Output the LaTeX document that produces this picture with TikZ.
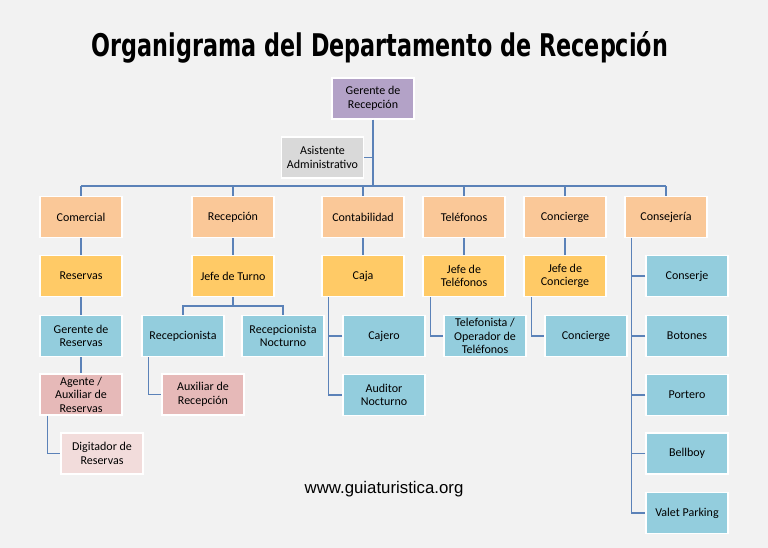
\documentclass[tikz,border=0pt]{standalone}
\usepackage{fontspec}
\setmainfont{Carlito}
\newfontfamily\titlefont{DejaVu Sans}
\newfontfamily\urlfont{Liberation Sans}
\definecolor{fondo}{HTML}{F2F2F2}
\definecolor{lila}{HTML}{B3A2C7}
\definecolor{gris}{HTML}{D9D9D9}
\definecolor{durazno}{HTML}{FAC898}
\definecolor{oro}{HTML}{FFCA66}
\definecolor{celeste}{HTML}{93CDDD}
\definecolor{rosa}{HTML}{E6B9B8}
\definecolor{rosita}{HTML}{F2DCDB}
\definecolor{linea}{HTML}{5B82B8}
\begin{document}
\begin{tikzpicture}[x=1pt,y=-1pt,
  box/.style={draw=white,line width=1.2pt,minimum width=82pt,minimum height=41pt,
    inner sep=0pt,align=center,font=\fontsize{12}{13.5}\selectfont},
  link/.style={draw=linea,line width=1.1pt}]
 \fill[fondo] (0,0) rectangle (768,548);
 \node[anchor=base,inner sep=0pt] (titulo) at (380,57)
   {\resizebox{576pt}{25pt}{\titlefont\bfseries Organigrama del Departamento de Recepción}};
 %
 \node[box,fill=lila] (ger) at (373,98.5) {Gerente de\\Recepción};
 \node[box,fill=gris] (asis) at (322.5,157.5) {Asistente\\Administrativo};
 \coordinate (bus) at (373,186);
 %
 \node[box,fill=durazno] (com)   at (81,217)  {Comercial};
 \node[box,fill=durazno] (recep) at (233,217) {Recepción};
 \node[box,fill=durazno] (cont)  at (363,217) {Contabilidad};
 \node[box,fill=durazno] (tel)   at (464,217) {Teléfonos};
 \node[box,fill=durazno] (conc)  at (565,217) {Concierge};
 \node[box,fill=durazno] (consj) at (666,217) {Consejería};
 %
 \node[box,fill=oro] (res)    at (81,276)  {Reservas};
 \node[box,fill=oro] (jturno) at (233,276) {Jefe de Turno};
 \node[box,fill=oro] (caja)   at (363,276) {Caja};
 \node[box,fill=oro] (jtel)   at (464,276) {Jefe de\\Teléfonos};
 \node[box,fill=oro] (jconc)  at (565,276) {Jefe de\\Concierge};
 %
 \node[box,fill=celeste] (gres)   at (81,336)  {Gerente de\\Reservas};
 \node[box,fill=celeste] (recp)   at (183,336) {Recepcionista};
 \node[box,fill=celeste] (recn)   at (283,336) {Recepcionista\\Nocturno};
 \node[box,fill=celeste] (cajero) at (384,336) {Cajero};
 \node[box,fill=celeste] (audit)  at (384,395) {Auditor\\Nocturno};
 \node[box,fill=celeste] (telop)  at (485,336) {Telefonista /\\Operador de\\Teléfonos};
 \node[box,fill=celeste] (concb)  at (586,336) {Concierge};
 %
 \node[box,fill=celeste] (conserje) at (687,276) {Conserje};
 \node[box,fill=celeste] (botones)  at (687,336) {Botones};
 \node[box,fill=celeste] (portero)  at (687,395) {Portero};
 \node[box,fill=celeste] (bellboy)  at (687,453.5) {Bellboy};
 \node[box,fill=celeste] (valet)    at (687,513) {Valet Parking};
 %
 \node[box,fill=rosa] (agente) at (81,394.5)  {Agente /\\Auxiliar de\\Reservas};
 \node[box,fill=rosa] (auxrec) at (203,394.5) {Auxiliar de\\Recepción};
 \node[box,fill=rosita] (digit) at (102,453.5) {Digitador de\\Reservas};
 %
 \node[anchor=base,font=\urlfont\fontsize{16.8}{20}\selectfont] (web) at (384,493) {www.guiaturistica.org};
 %
 \draw[link] (ger.south) -- (bus);
 \draw[link] (asis.east) -- (asis.east -| ger.south);
 \draw[link] (com.north |- bus) -- (consj.north |- bus);
 \foreach \n in {com,recep,cont,tel,conc,consj} \draw[link] (\n.north) -- (\n.north |- bus);
 %
 \draw[link] (com.south) -- (res.north);
 \draw[link] (res.south) -- (gres.north);
 \draw[link] (gres.south) -- (agente.north);
 \draw[link] ([xshift=8pt]agente.south west) |- (digit.west);
 %
 \draw[link] (recep.south) -- (jturno.north);
 \coordinate (tbus) at (233,306);
 \draw[link] (jturno.south) -- (tbus);
 \draw[link] (recp.north) |- (tbus) -| (recn.north);
 \draw[link] ([xshift=7pt]recp.south west) |- (auxrec.west);
 %
 \draw[link] (cont.south) -- (caja.north);
 \coordinate (cx) at ([xshift=7pt]caja.south west);
 \draw[link] (cx) |- (audit.west);
 \draw[link] (cajero.west) -- (cajero.west -| cx);
 %
 \draw[link] (tel.south) -- (jtel.north);
 \draw[link] ([xshift=8pt]jtel.south west) |- (telop.west);
 \draw[link] (conc.south) -- (jconc.north);
 \draw[link] ([xshift=8pt]jconc.south west) |- (concb.west);
 %
 \coordinate (sx) at ([xshift=7pt]consj.south west);
 \draw[link] (sx) |- (valet.west);
 \foreach \n in {conserje,botones,portero,bellboy} \draw[link] (\n.west) -- (\n.west -| sx);
\end{tikzpicture}
\end{document}
